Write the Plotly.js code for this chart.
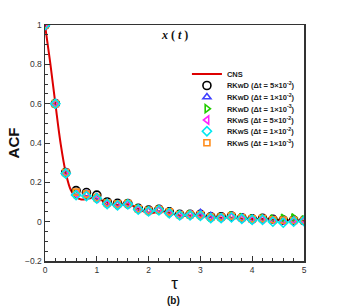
<!DOCTYPE html>
<html><head><meta charset="utf-8">
<script src="https://cdn.plot.ly/plotly-3.0.1.min.js"></script>
<style>html,body{margin:0;padding:0;background:#fff}#c{width:346px;height:308px}</style>
</head><body><div id="c"></div>
<script>
const tauCNS = [0,0.1,0.2,0.3,0.4,0.5,0.6,0.7,0.8,0.9,1.0,1.1,1.2,1.3,1.4,1.5,1.6,1.7,1.8,1.9,2.0,2.1,2.2,2.3,2.4,2.5,2.6,2.7,2.8,2.9,3.0,3.1,3.2,3.3,3.4,3.5,3.6,3.7,3.8,3.9,4.0,4.1,4.2,4.3,4.4,4.5,4.6,4.7,4.8,4.9,5.0];
const acfCNS = [1,0.81,0.60,0.40,0.25,0.16,0.125,0.113,0.115,0.12,0.118,0.108,0.097,0.088,0.085,0.088,0.088,0.08,0.066,0.053,0.044,0.045,0.052,0.052,0.045,0.038,0.032,0.030,0.031,0.032,0.030,0.026,0.022,0.020,0.020,0.021,0.020,0.018,0.016,0.015,0.014,0.014,0.013,0.012,0.010,0.009,0.008,0.007,0.007,0.006,0.005];
const tau = [0,0.2,0.4,0.6,0.8,1.0,1.2,1.4,1.6,1.8,2.0,2.2,2.4,2.6,2.8,3.0,3.2,3.4,3.6,3.8,4.0,4.2,4.4,4.6,4.8,5.0];
const rkwd_5e2 = [1,0.6,0.25,0.158,0.148,0.135,0.1,0.093,0.092,0.068,0.059,0.063,0.05,0.037,0.037,0.037,0.025,0.025,0.028,0.02,0.014,0.017,0.012,0.008,0.008,0.006];
const rkwd_1e2 = [1,0.6,0.248,0.145,0.14,0.125,0.095,0.088,0.09,0.066,0.056,0.062,0.047,0.035,0.036,0.045,0.03,0.022,0.027,0.018,0.012,0.015,0.01,0.006,0.006,0.005];
const rkwd_1e3 = [1,0.6,0.248,0.14,0.137,0.12,0.093,0.086,0.09,0.066,0.055,0.06,0.045,0.035,0.037,0.033,0.022,0.022,0.03,0.022,0.014,0.016,0.014,0.018,0.02,0.01];
const rkws_5e2 = [1,0.6,0.248,0.142,0.138,0.118,0.092,0.087,0.089,0.064,0.055,0.06,0.046,0.034,0.035,0.033,0.022,0.021,0.026,0.018,0.012,0.013,0.008,0.004,0.005,0.006];
const rkws_1e2 = [1,0.6,0.245,0.135,0.13,0.118,0.09,0.083,0.088,0.062,0.052,0.058,0.043,0.032,0.032,0.03,0.018,0.018,0.022,0.015,0.01,0.01,0.0,-0.005,0.0,0.003];
const rkws_1e3 = [1,0.6,0.25,0.15,0.14,0.122,0.095,0.09,0.092,0.066,0.056,0.062,0.05,0.035,0.036,0.035,0.023,0.023,0.028,0.02,0.014,0.016,0.01,0.007,0.006,0.006];
const names = ['CNS','RKwD (Δt = 5×10<sup>-2</sup>)','RKwD (Δt = 1×10<sup>-2</sup>)','RKwD (Δt = 1×10<sup>-3</sup>)','RKwS (Δt = 5×10<sup>-2</sup>)','RKwS (Δt = 1×10<sup>-2</sup>)','RKwS (Δt = 1×10<sup>-3</sup>)'];

function mk(y, name, sym, col, size, lg){
  return {x: tau, y: y, name: name, mode:'markers', type:'scatter', legend: lg,
    marker:{symbol: sym, color: col, size: size, line:{color: col, width:1.6}}};
}
const traces = [
  {x: tauCNS, y: acfCNS, name: names[0], mode:'lines', type:'scatter', line:{color:'#dd0000', width:2, shape:'spline'}, legend:'legend'},
  mk(rkwd_5e2, names[1], 'circle-open', '#000000', 8, 'legend2'),
  mk(rkwd_1e2, names[2], 'triangle-up-open', '#4040ff', 7, 'legend3'),
  mk(rkwd_1e3, names[3], 'triangle-right-open', '#22cc00', 7, 'legend4'),
  mk(rkws_5e2, names[4], 'triangle-left-open', '#ff22ff', 7, 'legend5'),
  mk(rkws_1e3, names[6], 'square-open', '#ff8c1a', 6, 'legend7'),
  mk(rkws_1e2, names[5], 'diamond-open', '#00e8f0', 7, 'legend6')
];
const rowPx = [74, 85.5, 97, 108.7, 120, 131.3, 142.8];
const legFont = {family:'Liberation Sans, Arial', size:7.5, color:'#222', weight:'bold'};
const axBase = {showgrid:false, zeroline:false, showline:true, linecolor:'#333', linewidth:1.5, mirror:true, automargin:true,
  ticks:'inside', ticklen:5, tickcolor:'#333', tickfont:{family:'Liberation Sans, Arial', size:8.5, color:'#333'}};
const layout = {
  width:346, height:308, margin:{l:45, r:42, t:25, b:47}, paper_bgcolor:'#fff', plot_bgcolor:'#fff',
  showlegend:true,
  xaxis: Object.assign({}, axBase, {range:[0,5], dtick:1, tick0:0,
    minor:{dtick:0.2, ticks:'inside', ticklen:3, tickcolor:'#333'},
    title:{text:'τ', font:{family:'Liberation Sans, Arial', size:17, color:'#111'}, standoff:3}}),
  yaxis: Object.assign({}, axBase, {range:[-0.2,1], dtick:0.2, tick0:0,
    minor:{dtick:0.05, ticks:'inside', ticklen:3, tickcolor:'#333'},
    title:{text:'<b>ACF</b>', font:{family:'Liberation Sans, Arial', size:15, color:'#111'}, standoff:2}}),
  annotations:[
    {text:'<b><i>x</i> ( <i>t</i> )</b>', xref:'paper', yref:'paper', x:0.5, y:1, yanchor:'top', yshift:-1, showarrow:false,
      font:{family:'Liberation Serif, Times New Roman', size:12, color:'#111'}},
    {text:'<b>(b)</b>', xref:'paper', yref:'paper', x:0.495, y:0, yanchor:'middle', yshift:-39, showarrow:false,
      font:{family:'Liberation Sans, Arial', size:10, color:'#111'}}
  ]
};
['legend','legend2','legend3','legend4','legend5','legend6','legend7'].forEach((k,i)=>{
  layout[k] = {x:0.548, y:(261-rowPx[i])/236, xanchor:'left', yanchor:'middle', bgcolor:'rgba(0,0,0,0)',
    borderwidth:0, font:legFont, itemwidth:30};
});
Plotly.newPlot('c', traces, layout, {staticPlot:true, displayModeBar:false});
</script></body></html>
